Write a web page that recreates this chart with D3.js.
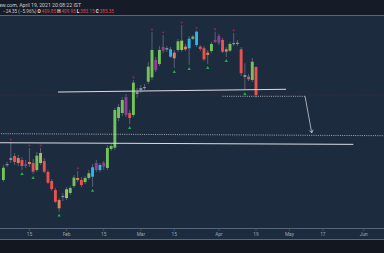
<!DOCTYPE html>
<html>
<head>
<meta charset="utf-8">
<script src="https://cdnjs.cloudflare.com/ajax/libs/d3/7.8.5/d3.min.js"></script>
<style>
body { margin: 0; background: #13171f; }
svg { display: block; font-family: Roboto, "DejaVu Sans", sans-serif; }
</style>
</head>
<body>
<div id="my_dataviz"></div>
<script>

// trading days shown on the chart (NSE, 2021)
var dates = [
    "2021-01-06", "2021-01-07", "2021-01-08", "2021-01-11", "2021-01-12", "2021-01-13", "2021-01-14", "2021-01-15",
    "2021-01-18", "2021-01-19", "2021-01-20", "2021-01-21", "2021-01-22", "2021-01-25", "2021-01-27", "2021-01-28",
    "2021-01-29", "2021-02-01", "2021-02-02", "2021-02-03", "2021-02-04", "2021-02-05", "2021-02-08", "2021-02-09",
    "2021-02-10", "2021-02-11", "2021-02-12", "2021-02-15", "2021-02-16", "2021-02-17", "2021-02-18", "2021-02-19",
    "2021-02-22", "2021-02-23", "2021-02-24", "2021-02-25", "2021-02-26", "2021-03-01", "2021-03-02", "2021-03-03",
    "2021-03-04", "2021-03-05", "2021-03-08", "2021-03-09", "2021-03-10", "2021-03-12", "2021-03-15", "2021-03-16",
    "2021-03-17", "2021-03-18", "2021-03-19", "2021-03-22", "2021-03-23", "2021-03-24", "2021-03-25", "2021-03-26",
    "2021-03-30", "2021-03-31", "2021-04-01", "2021-04-05", "2021-04-06", "2021-04-07", "2021-04-08", "2021-04-09",
    "2021-04-12", "2021-04-13", "2021-04-15", "2021-04-16", "2021-04-19"
]

// empty future bars to the right of the last candle
var futureDates = [
    "2021-04-20", "2021-04-22", "2021-04-23", "2021-04-26", "2021-04-27", "2021-04-28", "2021-04-29", "2021-04-30",
    "2021-05-03", "2021-05-04", "2021-05-05", "2021-05-06", "2021-05-07", "2021-05-10", "2021-05-11", "2021-05-12",
    "2021-05-14", "2021-05-17", "2021-05-18", "2021-05-19", "2021-05-20", "2021-05-21", "2021-05-24", "2021-05-25",
    "2021-05-26", "2021-05-27", "2021-05-28", "2021-05-31", "2021-06-01", "2021-06-02", "2021-06-03", "2021-06-04"
]

var opens = [311.7, 325.1, 330.8, 332.5, 330.8, 329.0, 323.8, 327.3, 326.4, 320.3,
    326.4, 328.1, 318.6, 310.8, 303.0, 294.3, 296.9, 296.0, 300.4, 306.5,
    313.4, 311.7, 309.9, 313.4, 314.5, 326.4, 320.3, 323.2, 322.1, 338.6,
    339.7, 365.5, 369.8, 383.7, 369.8, 368.1, 388.0, 389.8, 391.5, 397.0,
    400.8, 415.8, 412.3, 427.1, 426.2, 418.7, 422.2, 424.5, 424.5, 427.4,
    426.0, 434.3, 428.8, 427.4, 426.0, 422.2, 423.6, 433.2, 436.6, 433.2,
    425.1, 423.9, 430.6, 429.7, 425.1, 402.8, 401.3, 398.5, 409.85]

var highs = [324.7, 327.5, 344.6, 335.1, 333.4, 331.6, 329.0, 339.4, 329.9, 336.0,
    339.4, 330.8, 320.3, 312.5, 304.7, 296.0, 300.4, 305.6, 306.5, 316.0,
    319.5, 314.3, 315.1, 320.3, 325.5, 329.0, 326.4, 328.1, 342.0, 342.9,
    374.2, 377.6, 383.7, 386.3, 372.4, 398.5, 391.5, 394.1, 395.0, 414.1,
    440.1, 418.4, 428.0, 437.5, 428.0, 427.1, 424.5, 434.0, 446.2, 429.7,
    436.6, 437.5, 441.4, 428.8, 428.0, 424.5, 431.4, 440.4, 438.4, 434.9,
    427.1, 431.4, 439.3, 433.2, 427.1, 413.0, 403.7, 417.6, 409.95]

var lows = [309.9, 323.2, 326.4, 324.7, 323.8, 320.3, 322.1, 322.9, 316.9, 318.6,
    324.7, 317.7, 308.2, 302.1, 291.7, 284.2, 293.4, 294.3, 298.6, 304.7,
    309.9, 305.6, 308.2, 311.7, 305.8, 318.6, 318.6, 320.3, 320.3, 336.8,
    337.7, 362.9, 367.2, 366.3, 360.3, 366.3, 382.8, 387.2, 389.8, 395.0,
    398.5, 405.4, 410.6, 421.9, 422.8, 417.6, 408.9, 422.8, 422.8, 423.6,
    411.5, 433.2, 427.1, 423.6, 414.9, 412.3, 421.9, 430.6, 428.8, 421.9,
    418.4, 422.8, 428.0, 428.0, 401.9, 389.8, 397.6, 396.7, 383.15]

var closes = [322.3, 325.5, 329.0, 327.3, 326.4, 323.8, 325.5, 325.5, 318.9, 332.8,
    335.1, 318.9, 309.3, 303.8, 292.8, 287.1, 297.8, 303.6, 304.7, 313.7,
    311.7, 307.3, 313.4, 317.5, 322.7, 320.3, 324.7, 326.7, 339.4, 341.2,
    372.4, 375.0, 381.1, 368.1, 365.5, 396.1, 386.3, 391.5, 392.4, 410.0,
    424.5, 407.1, 424.5, 423.9, 424.9, 425.1, 417.3, 432.0, 432.6, 425.1,
    434.3, 436.0, 440.4, 425.4, 416.4, 420.2, 429.7, 431.7, 430.8, 423.0,
    423.0, 429.7, 429.7, 430.8, 404.3, 401.1, 399.1, 414.3, 385.35]

// candle state from the colouring indicator
var states = ["up", "doji", "doji", "down", "down2", "down", "rev", "down2", "down", "up",
    "up2", "down", "down", "down", "down", "down2", "doji", "up2", "up", "up",
    "down2", "down", "up", "up", "bo", "rev", "bo", "rev", "up", "up",
    "up", "up", "up", "rev", "down", "up", "doji", "doji", "doji", "up",
    "up", "rev", "up", "rev", "doji", "bo", "down2", "up", "up2", "down2",
    "bo", "up", "bo", "down", "down", "down2", "up", "rev", "rev", "down",
    "down2", "up", "doji", "doji", "down", "doji", "down", "up", "down"]

// pivot markers (bar index)
var pivotHighs = [2, 7, 10, 20, 35, 40, 43, 48, 52, 57, 62]
var pivotLows = [5, 8, 15, 24, 34, 46, 50, 55, 60, 65]

// time axis labels
var tickDates = ["2021-01-15", "2021-02-01", "2021-02-15", "2021-03-01", "2021-03-15",
    "2021-04-01", "2021-04-19", "2021-05-03", "2021-05-17", "2021-06-01"]
var tickLabels = ["15", "Feb", "15", "Mar", "15", "Apr", "19", "May", "17", "Jun"]

// drawings: [bar index, price]
var resistanceLine = [[14.7, 388.0], [76.1, 390.4]]
var supportLine = [[-1.1, 344.0], [94.2, 342.6]]
var targetLevel = [[-2.4, 351.9], [104.2, 350.1]]
var projection = [[59.0, 384.3], [81.2, 384.3], [83.0, 352.5]]

var header1 = "TradingView.com, April 19, 2021 20:08:22 IST"
var changeText = "\u221224.35 (\u22125.96%)"
var ohlcLabels = ["O", "H", "L", "C"]
var ohlcValues = ["409.85", "409.95", "383.15", "385.35"]


var W = 384, H = 253
var mTop = 16, mBottom = 228

var svg = d3.select("#my_dataviz")
    .append("svg")
    .attr("width", W)
    .attr("height", H)

// backgrounds
svg.append("rect").attr("width", W).attr("height", H).attr("fill", "#13171f")
svg.append("rect").attr("y", 0).attr("width", W).attr("height", mTop).attr("fill", "#151c27")
svg.append("rect").attr("y", mTop).attr("width", W).attr("height", 240 - mTop).attr("fill", "#1d2b3e")
svg.append("line").attr("x1", 0).attr("x2", W).attr("y1", mTop - 0.5).attr("y2", mTop - 0.5)
    .attr("stroke", "#56657a").attr("stroke-width", 1)
svg.append("line").attr("x1", 0).attr("x2", W).attr("y1", mBottom + 0.5).attr("y2", mBottom + 0.5)
    .attr("stroke", "#56657a").attr("stroke-width", 1)
svg.append("line").attr("x1", 0).attr("x2", W).attr("y1", 239.5).attr("y2", 239.5)
    .attr("stroke", "#56657a").attr("stroke-width", 1)

var allDates = dates.concat(futureDates)

// scales
var x = d3.scaleLinear()
    .domain([0, dates.length - 1])
    .range([3.4, 256])
var y = d3.scaleLinear()
    .domain([270, 454])
    .range([mBottom, mTop])

var color = d3.scaleOrdinal()
    .domain(["up", "up2", "down", "down2", "bo", "rev", "doji"])
    .range(["#72c45a", "#a6c25a", "#ea524f", "#e27f5c", "#2cb5ee", "#8f3f97", "#8a8fa0"])

svg.append("clipPath").attr("id", "plot")
    .append("rect").attr("x", 0).attr("y", mTop).attr("width", W).attr("height", mBottom - mTop)

var plot = svg.append("g").attr("clip-path", "url(#plot)")

// last price line
var lastY = y(closes[closes.length - 1])
plot.append("line")
    .attr("x1", 0).attr("x2", W)
    .attr("y1", lastY).attr("y2", lastY)
    .attr("stroke", "#5a2a3c").attr("stroke-width", 0.7)
    .attr("stroke-dasharray", "1,1.5")

var candles = dates.map(function (d, i) {
    return { date: d, i: i, o: opens[i], h: highs[i], l: lows[i], c: closes[i], s: states[i] }
})

// wicks
plot.append("g")
    .selectAll("line")
    .data(candles)
    .enter().append("line")
    .attr("x1", function (d) { return x(d.i) })
    .attr("x2", function (d) { return x(d.i) })
    .attr("y1", function (d) { return y(d.h) })
    .attr("y2", function (d) { return y(d.l) })
    .attr("stroke", "#7d8796")
    .attr("stroke-width", 0.6)

// bodies
var bw = 2.9
plot.append("g")
    .selectAll("rect")
    .data(candles)
    .enter().append("rect")
    .attr("x", function (d) { return x(d.i) - bw / 2 })
    .attr("y", function (d) { return y(Math.max(d.o, d.c)) })
    .attr("width", bw)
    .attr("height", function (d) { return Math.max(1.2, Math.abs(y(d.o) - y(d.c))) })
    .attr("fill", function (d) { return color(d.s) })

// pivot high dots
plot.append("g")
    .selectAll("circle")
    .data(pivotHighs)
    .enter().append("circle")
    .attr("cx", function (i) { return x(i) })
    .attr("cy", function (i) { return y(highs[i]) - 2.5 })
    .attr("r", 1.1)
    .attr("fill", "#8e2647")

// pivot low triangles
plot.append("g")
    .selectAll("path")
    .data(pivotLows)
    .enter().append("path")
    .attr("transform", function (i) { return "translate(" + x(i) + "," + (y(lows[i]) + 4) + ")" })
    .attr("d", d3.symbol().type(d3.symbolTriangle).size(5))
    .attr("fill", "#1fae45")

var line = d3.line()
    .x(function (d) { return x(d[0]) })
    .y(function (d) { return y(d[1]) })

// drawings
plot.append("path").datum(resistanceLine).attr("d", line)
    .attr("fill", "none").attr("stroke", "#d9dee6").attr("stroke-width", 1)
plot.append("path").datum(supportLine).attr("d", line)
    .attr("fill", "none").attr("stroke", "#d9dee6").attr("stroke-width", 1)
plot.append("path").datum(targetLevel).attr("d", line)
    .attr("fill", "none").attr("stroke", "#c6ccd6").attr("stroke-width", 0.8)
    .attr("stroke-dasharray", "1,1.2")
plot.append("path").datum(projection.slice(0, 2)).attr("d", line)
    .attr("fill", "none").attr("stroke", "#c6ccd6").attr("stroke-width", 0.8)
    .attr("stroke-dasharray", "1,1.2")
plot.append("path").datum(projection.slice(1)).attr("d", line)
    .attr("fill", "none").attr("stroke", "#c6ccd6").attr("stroke-width", 0.8)

// arrow head
var p1 = projection[1], p2 = projection[2]
var ang = Math.atan2(y(p2[1]) - y(p1[1]), x(p2[0]) - x(p1[0]))
var ah = 3.5
var ax = x(p2[0]), ay = y(p2[1])
plot.append("path")
    .attr("d", "M" + (ax - ah * Math.cos(ang - 0.6)) + "," + (ay - ah * Math.sin(ang - 0.6)) +
        "L" + ax + "," + ay +
        "L" + (ax - ah * Math.cos(ang + 0.6)) + "," + (ay - ah * Math.sin(ang + 0.6)))
    .attr("fill", "none").attr("stroke", "#c6ccd6").attr("stroke-width", 0.8)

// time axis
var ticks = svg.append("g")
    .selectAll("g")
    .data(tickDates)
    .enter().append("g")
    .attr("transform", function (d) { return "translate(" + x(allDates.indexOf(d)) + ",0)" })
ticks.append("line")
    .attr("y1", mBottom + 1).attr("y2", mBottom + 3)
    .attr("stroke", "#56657a").attr("stroke-width", 0.6)
ticks.append("text")
    .attr("y", 235.5)
    .attr("text-anchor", "middle")
    .attr("font-size", 4.8)
    .attr("fill", "#9ba6b5")
    .text(function (d, i) { return tickLabels[i] })

// header legend
svg.append("text")
    .attr("x", 81).attr("y", 7)
    .attr("text-anchor", "end")
    .attr("font-size", 5.2)
    .attr("fill", "#c8ced8")
    .text(header1)

var legend = svg.append("text")
    .attr("x", 3).attr("y", 13.2)
    .attr("font-size", 4.6)
    .attr("fill", "#c8ced8")
legend.append("tspan").text(changeText + " ")
ohlcLabels.forEach(function (k, i) {
    legend.append("tspan").attr("fill", "#e4e7ec").attr("font-weight", "bold").text(k)
    legend.append("tspan").attr("fill", "#d84a5e").text(":" + ohlcValues[i] + " ")
})

</script>
</body>
</html>
